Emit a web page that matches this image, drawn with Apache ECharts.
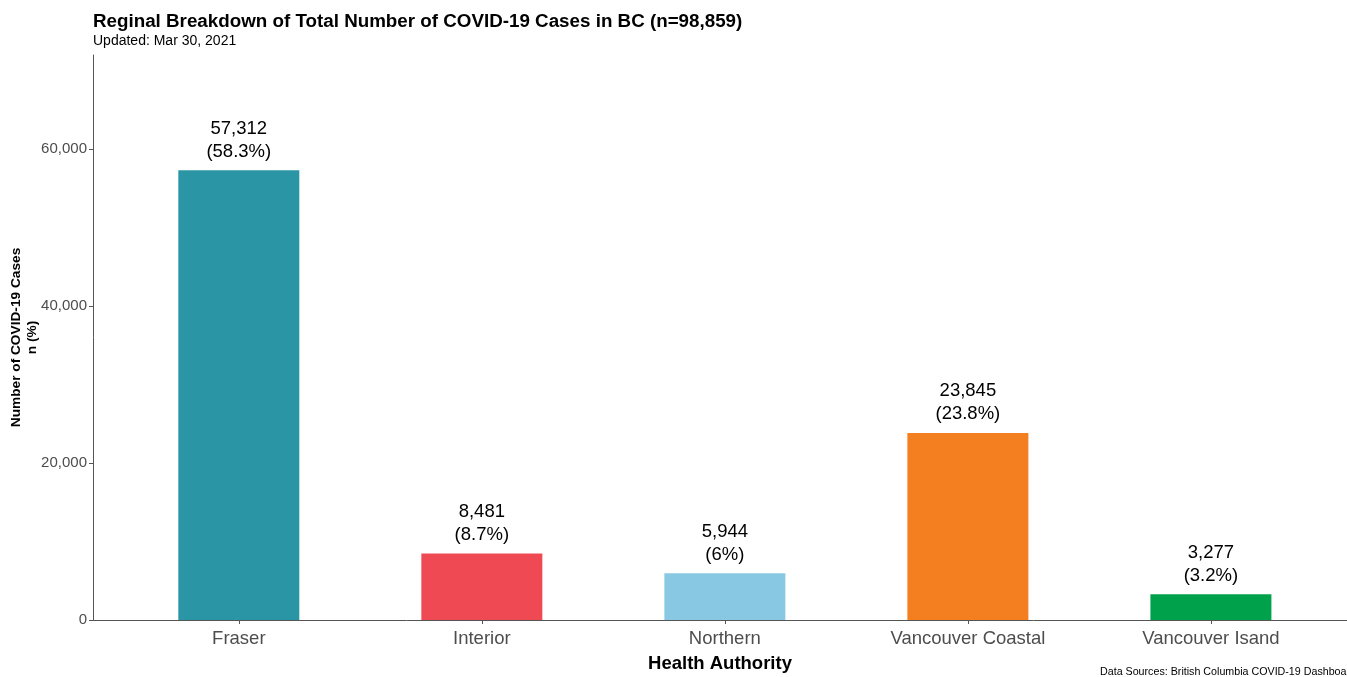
<!DOCTYPE html>
<html>
<head>
<meta charset="utf-8">
<script src="https://cdn.jsdelivr.net/npm/echarts@6/dist/echarts.min.js"></script>
<style>
  html, body { margin: 0; padding: 0; background: #fff; }
  #main { width: 1347px; height: 677px; }
</style>
</head>
<body>
<div id="main"></div>
<script>
// Health authorities and their case counts
const regions = ['Fraser', 'Interior', 'Northern', 'Vancouver Coastal', 'Vancouver Isand'];
const cases = [57312, 8481, 5944, 23845, 3277];
const shares = [58.3, 8.7, 6, 23.8, 3.2];
const barColors = ['#2A96A5', '#EF4A54', '#89C8E2', '#F47F20', '#00A14B'];
const yTicks = [0, 20000, 40000, 60000];

const font = 'Liberation Sans, Arial, sans-serif';
const positions = regions.map((r, i) => i);

const chart = echarts.init(document.getElementById('main'));

chart.setOption({
  animation: false,
  textStyle: { fontFamily: font },
  title: {
    text: 'Reginal Breakdown of Total Number of COVID-19 Cases in BC (n=98,859)',
    subtext: 'Updated: Mar 30, 2021',
    left: 88,
    top: 7,
    itemGap: 3,
    textStyle: { fontSize: 18.8, fontWeight: 'bold', color: '#000', fontFamily: font },
    subtextStyle: { fontSize: 14, color: '#000', fontFamily: font }
  },
  grid: { left: 93, right: 0, top: 55, bottom: 57, containLabel: false, outerBoundsMode: 'none' },
  // ggplot-style discrete axis: 0.6 units of padding on the left, plot cropped on the right
  xAxis: {
    type: 'value',
    min: -0.6,
    max: 4.56,
    name: 'Health Authority',
    nameLocation: 'middle',
    nameGap: 34,
    nameMoveOverlap: false,
    nameTextStyle: { fontSize: 18.5, fontWeight: 'bold', color: '#000' },
    splitLine: { show: false },
    axisLine: { onZero: false, lineStyle: { color: '#555', width: 1 } },
    axisTick: { show: true, customValues: positions, length: 4, lineStyle: { color: '#555' } },
    axisLabel: {
      customValues: positions,
      fontSize: 18.5,
      color: '#4d4d4d',
      margin: 9,
      formatter: (v) => regions[Math.round(v)]
    }
  },
  yAxis: {
    type: 'value',
    min: 0,
    max: 72000,
    interval: 20000,
    name: 'Number of COVID-19 Cases\nn (%)',
    nameLocation: 'middle',
    nameGap: 53,
    nameMoveOverlap: false,
    nameTextStyle: { fontSize: 13.7, fontWeight: 'bold', color: '#000', lineHeight: 16 },
    splitLine: { show: false },
    axisLine: { show: true, onZero: false, lineStyle: { color: '#555', width: 1 } },
    axisTick: { show: true, length: 4, lineStyle: { color: '#555' } },
    axisLabel: {
      fontSize: 15,
      color: '#4d4d4d',
      margin: 6,
      showMaxLabel: false,
      formatter: (v) => (yTicks.includes(v) ? v.toLocaleString('en-US') : '')
    }
  },
  series: [{
    type: 'bar',
    barWidth: 121,
    data: cases.map((v, i) => ({ value: [positions[i], v], itemStyle: { color: barColors[i] } })),
    label: {
      show: true,
      position: 'top',
      distance: 7,
      fontSize: 18.5,
      lineHeight: 23,
      color: '#000',
      formatter: (p) => p.value[1].toLocaleString('en-US') + '\n(' + shares[p.dataIndex] + '%)'
    }
  }],
  graphic: [{
    type: 'text',
    left: 1100,
    top: 667,
    style: {
      text: 'Data Sources: British Columbia COVID-19 Dashboard',
      fontSize: 10.7,
      fill: '#000',
      fontFamily: font
    }
  }]
});
</script>
</body>
</html>
